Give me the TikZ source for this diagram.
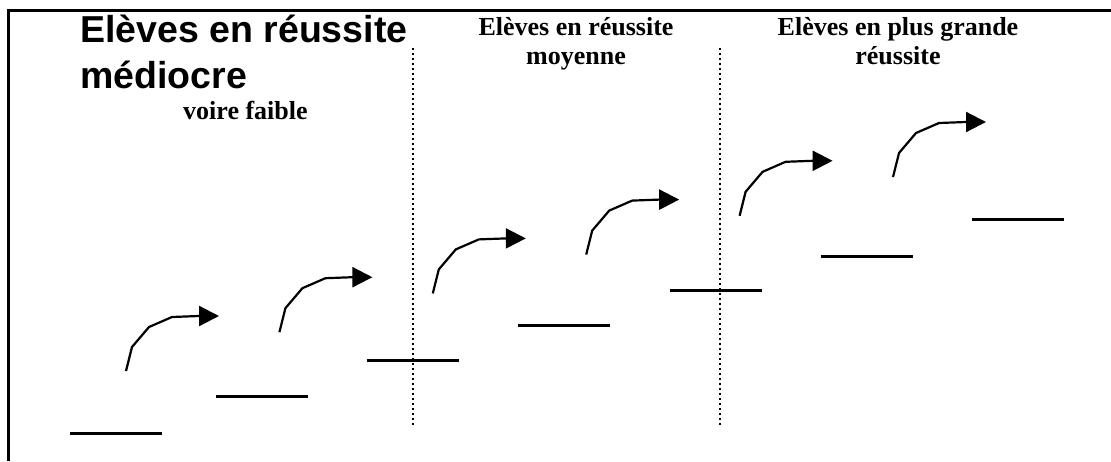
\documentclass[tikz,border=0pt]{standalone}
\usepackage{fontspec}
\setmainfont{Liberation Serif}
\newfontfamily\arialfont{Liberation Sans}
\usetikzlibrary{arrows.meta}

\begin{document}
\begin{tikzpicture}
  [x=1pt,y=-1pt,
   every node/.style={inner sep=0pt},
   stepline/.style={line width=3pt},
   jump/.style={line width=2.2pt,-{Triangle[length=20pt,width=20pt]}},
   sep/.style={line width=1.5pt,dash pattern=on 1.5pt off 3.5pt},
   heading/.style={anchor=base,font=\fontsize{26}{30}\selectfont\bfseries},
   bigtitle/.style={anchor=base west,font=\arialfont\fontsize{37.5}{42}\selectfont\bfseries}]
  \useasboundingbox (0,0) rectangle (1111,461);
  % frame
  \draw[line width=3pt] (8,461) -- (8,10) -- (1111,10);
  % columns
  \coordinate (s1top) at (413,48);
  \coordinate (s1bot) at (413,428);
  \coordinate (s2top) at (720,48);
  \coordinate (s2bot) at (720,428);
  \draw[sep] (s1top) -- (s1bot);
  \draw[sep] (s2top) -- (s2bot);
  % headings
  \node[bigtitle] (t1) at (80,42) {Elèves en réussite};
  \node[bigtitle] (t2) at (80,88) {médiocre};
  \node[heading,anchor=base west] (t3) at (183,119) {voire faible};
  \node[heading] (m1) at (576,35) {Elèves en réussite};
  \node[heading] (m2) at (576,64) {moyenne};
  \node[heading] (g1) at (898,35) {Elèves en plus grande};
  \node[heading] (g2) at (898,64) {réussite};
  % steps
  \foreach \x/\y in {70/433,216/396,367/360,518/325,670/290,821/256,972/219}
    \draw[stepline] (\x,\y) -- ++(92,0);
  % jumps
  \foreach \i in {0,...,5}
    \draw[jump] (126+153.4*\i,371-38.8*\i) -- ++(6,-24) -- ++(17,-20)
      -- ++(23,-10) -- ++(27,-1) -- ++(20,0);

\end{tikzpicture}
\end{document}
